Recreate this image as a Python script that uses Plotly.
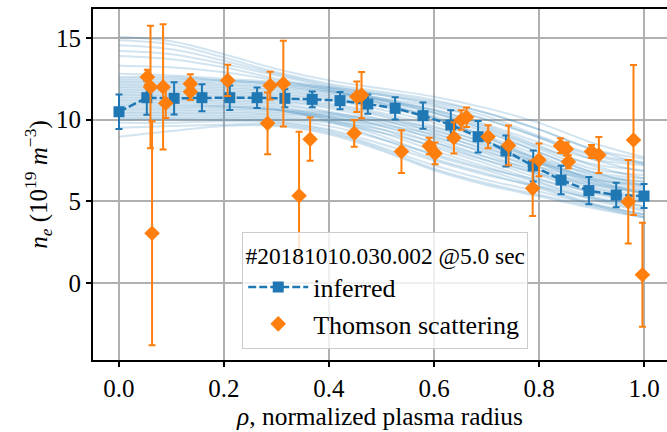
import plotly.graph_objects as go

# ---- data ----
inferred_rho = [0.0, 0.053, 0.105, 0.158, 0.211, 0.263, 0.316, 0.368, 0.421, 0.474,
                0.526, 0.579, 0.632, 0.684, 0.737, 0.789, 0.842, 0.895, 0.947, 1.0]
inferred_ne = [10.48, 11.34, 11.3, 11.34, 11.34, 11.34, 11.3, 11.24, 11.16, 10.95,
               10.69, 10.24, 9.67, 8.95, 8.08, 7.16, 6.3, 5.65, 5.38, 5.32]
inferred_err = [1.05, 1.04, 0.99, 0.83, 0.75, 0.63, 0.55, 0.48, 0.53, 0.59,
                0.68, 0.8, 0.9, 0.97, 0.95, 0.95, 0.87, 0.84, 0.75, 0.74]

thomson_rho = [0.054, 0.060, 0.063, 0.084, 0.089, 0.136, 0.136, 0.207, 0.283, 0.288,
               0.313, 0.343, 0.364, 0.448, 0.453, 0.462, 0.538, 0.591, 0.602, 0.638,
               0.652, 0.662, 0.703, 0.742, 0.788, 0.800, 0.841, 0.852, 0.856, 0.900,
               0.914, 0.970, 0.980, 0.997]
thomson_ne = [12.6, 12.0, 3.04, 12.0, 11.0, 12.2, 11.7, 12.4, 9.77, 12.08,
              12.2, 5.34, 8.8, 9.16, 11.4, 11.5, 8.04, 8.38, 7.93, 8.88,
              9.97, 10.14, 8.95, 8.42, 5.79, 7.53, 8.4, 8.2, 7.42, 8.04,
              7.83, 4.97, 8.75, 0.5]
thomson_err = [0.45, 3.75, 6.85, 3.83, 0.9, 0.57, 0.5, 0.96, 1.89, 0.85,
               2.63, 3.92, 1.32, 0.82, 0.93, 1.42, 1.31, 0.5, 0.67, 0.95,
               0.6, 0.6, 0.7, 1.22, 1.7, 1.0, 0.45, 0.4, 0.4, 0.4,
               1.1, 2.55, 4.59, 3.18]

sample_rho = [0.0, 0.1, 0.2, 0.3, 0.4, 0.5, 0.6, 0.7, 0.8, 0.9, 1.0]
samples = [
    [15.05, 14.8, 14.0, 13.1, 12.4, 11.9, 11.4, 10.7, 9.8, 8.6, 7.7],
    [14.85, 14.6, 13.8, 12.9, 12.2, 11.7, 11.2, 10.4, 9.4, 8.2, 7.3],
    [14.55, 14.3, 13.6, 12.8, 12.1, 11.5, 10.9, 10.0, 8.9, 7.6, 6.8],
    [14.2, 14.0, 13.4, 12.7, 12.0, 11.3, 10.6, 9.6, 8.4, 7.2, 6.4],
    [13.9, 13.7, 13.2, 12.5, 11.9, 11.2, 10.4, 9.3, 8.0, 6.8, 6.0],
    [13.3, 13.2, 12.9, 12.4, 11.8, 11.0, 10.1, 8.9, 7.5, 6.3, 5.5],
    [12.8, 12.7, 12.5, 12.3, 12.0, 11.6, 11.1, 10.4, 9.4, 8.2, 7.6],
    [12.6, 12.6, 12.4, 12.2, 11.9, 11.5, 11.0, 10.2, 9.0, 7.9, 7.4],
    [12.5, 12.5, 12.4, 12.2, 11.8, 11.3, 10.8, 10.0, 8.9, 7.8, 7.3],
    [12.4, 12.4, 12.3, 12.1, 11.7, 11.2, 10.6, 9.7, 8.6, 7.6, 7.2],
    [12.3, 12.3, 12.2, 12.0, 11.7, 11.2, 10.5, 9.5, 8.3, 7.3, 6.9],
    [12.2, 12.2, 12.1, 11.9, 11.6, 11.1, 10.4, 9.4, 8.2, 7.0, 6.6],
    [12.1, 12.1, 12.0, 11.8, 11.5, 11.0, 10.2, 9.2, 8.0, 6.8, 6.4],
    [12.0, 12.0, 11.9, 11.7, 11.4, 10.9, 10.1, 9.0, 7.8, 6.6, 6.2],
    [11.9, 11.9, 11.8, 11.6, 11.3, 10.8, 10.0, 8.9, 7.6, 6.4, 6.0],
    [11.8, 11.8, 11.7, 11.5, 11.2, 10.6, 9.8, 8.7, 7.4, 6.2, 5.7],
    [11.7, 11.7, 11.6, 11.4, 11.0, 10.4, 9.6, 8.5, 7.3, 6.1, 5.5],
    [11.6, 11.6, 11.5, 11.3, 10.9, 10.3, 9.4, 8.3, 7.1, 5.9, 5.3],
    [11.5, 11.5, 11.4, 11.2, 10.8, 10.2, 9.2, 8.1, 6.9, 5.8, 5.2],
    [11.4, 11.4, 11.3, 11.1, 10.7, 10.0, 9.0, 7.9, 6.7, 5.6, 5.0],
    [11.3, 11.3, 11.2, 11.0, 10.5, 9.8, 8.8, 7.7, 6.6, 5.5, 4.9],
    [11.2, 11.2, 11.1, 10.9, 10.4, 9.6, 8.6, 7.5, 6.4, 5.3, 4.7],
    [11.1, 11.1, 11.0, 10.8, 10.2, 9.4, 8.3, 7.3, 6.2, 5.2, 4.5],
    [11.0, 11.0, 10.9, 10.7, 10.1, 9.2, 8.1, 7.1, 6.1, 5.1, 4.4],
    [10.9, 10.9, 10.8, 10.6, 10.0, 9.0, 7.8, 6.9, 5.9, 4.9, 4.2],
    [10.8, 10.8, 10.8, 10.6, 9.9, 8.8, 7.6, 6.7, 5.8, 4.8, 4.1],
    [10.7, 10.7, 10.7, 10.6, 10.4, 10.0, 9.5, 8.6, 7.6, 6.7, 6.2],
    [10.6, 10.6, 10.6, 10.5, 10.3, 9.9, 9.3, 8.4, 7.4, 6.5, 6.0],
    [10.5, 10.5, 10.5, 10.4, 10.2, 9.7, 9.1, 8.2, 7.3, 6.4, 5.9],
    [10.4, 10.4, 10.4, 10.3, 10.1, 9.6, 8.9, 8.0, 7.1, 6.3, 5.8],
    [10.3, 10.3, 10.3, 10.2, 9.9, 9.4, 8.6, 7.7, 6.9, 6.1, 5.6],
    [10.2, 10.2, 10.2, 10.1, 9.8, 9.2, 8.4, 7.5, 6.7, 6.0, 5.5],
    [10.1, 10.1, 10.1, 10.0, 9.6, 8.8, 7.9, 7.0, 6.3, 5.6, 5.1],
    [10.0, 10.0, 10.0, 9.9, 9.4, 8.5, 7.5, 6.6, 5.9, 5.2, 4.7],
    [9.8, 9.8, 9.9, 9.8, 9.3, 8.3, 7.2, 6.3, 5.6, 4.8, 4.2],
    [9.5, 9.6, 9.7, 9.7, 9.2, 8.2, 7.0, 6.1, 5.4, 4.7, 4.0],
    [8.95, 9.3, 9.6, 9.6, 9.1, 8.1, 6.9, 6.0, 5.3, 4.6, 4.0],
]

x_ticks = [0.0, 0.2, 0.4, 0.6, 0.8, 1.0]
x_ticklabels = ["0.0", "0.2", "0.4", "0.6", "0.8", "1.0"]
y_ticks = [0, 5, 10, 15]
y_ticklabels = ["0", "5", "10", "15"]

legend_title = "#20181010.030.002 @5.0 sec"
x_title = "<i>ρ</i>, normalized plasma radius"
y_title = "<i>n</i><sub><i>e</i></sub> (10<sup>19</sup> <i>m</i><sup>−3</sup>)"

BLUE = "#1f77b4"
ORANGE = "#ff7f0e"
FONT = "Liberation Serif"

fig = go.Figure()

for s in samples:
    fig.add_trace(go.Scatter(
        x=sample_rho, y=s, mode="lines",
        line=dict(color="rgba(31,119,180,0.2)", width=2, shape="spline", smoothing=1.0),
        showlegend=False, hoverinfo="skip"))

fig.add_trace(go.Scatter(
    x=inferred_rho, y=inferred_ne, mode="lines+markers", name="inferred",
    line=dict(color=BLUE, width=2.5, dash="8px,3px"),
    marker=dict(symbol="square", size=11, color=BLUE),
    error_y=dict(type="data", array=inferred_err, visible=True,
                 color=BLUE, thickness=2, width=3.5)))

fig.add_trace(go.Scatter(
    x=thomson_rho, y=thomson_ne, mode="markers", name="Thomson scattering",
    marker=dict(symbol="diamond", size=12, color=ORANGE),
    error_y=dict(type="data", array=thomson_err, visible=True,
                 color=ORANGE, thickness=2, width=3.5)))

fig.update_layout(
    width=667, height=432,
    margin=dict(l=93, r=0, t=9, b=72),
    plot_bgcolor="white", paper_bgcolor="white",
    font=dict(family=FONT, size=25, color="black"),
    legend=dict(
        x=0.260, y=0.364, xanchor="left", yanchor="top",
        bgcolor="rgba(255,255,255,0.8)", bordercolor="#cccccc", borderwidth=1,
        font=dict(family=FONT, size=26, color="black"),
        title=dict(text=legend_title, side="top center",
                   font=dict(family=FONT, size=23.4, color="black")),
        itemwidth=60, tracegroupgap=0),
)

fig.update_xaxes(
    range=[-0.0495, 1.0438], tickvals=x_ticks, ticktext=x_ticklabels,
    showgrid=True, gridcolor="#b0b0b0", gridwidth=2,
    showline=True, linecolor="black", linewidth=2, mirror=True,
    ticks="outside", ticklen=5, tickwidth=2, tickcolor="black",
    zeroline=False, tickfont=dict(size=25), automargin=False,
    title=dict(text=x_title, font=dict(size=25.4), standoff=4))

fig.update_yaxes(
    range=[-4.72, 16.77], tickvals=y_ticks, ticktext=y_ticklabels,
    showgrid=True, gridcolor="#b0b0b0", gridwidth=2,
    showline=True, linecolor="black", linewidth=2, mirror=False,
    ticks="outside", ticklen=5, tickwidth=2, tickcolor="black",
    zeroline=False, tickfont=dict(size=25), automargin=False,
    title=dict(text=y_title, font=dict(size=25), standoff=1))

fig.write_html("out.html", config={"displayModeBar": False},
               post_script="document.body.style.margin='0';document.body.style.padding='0';")
